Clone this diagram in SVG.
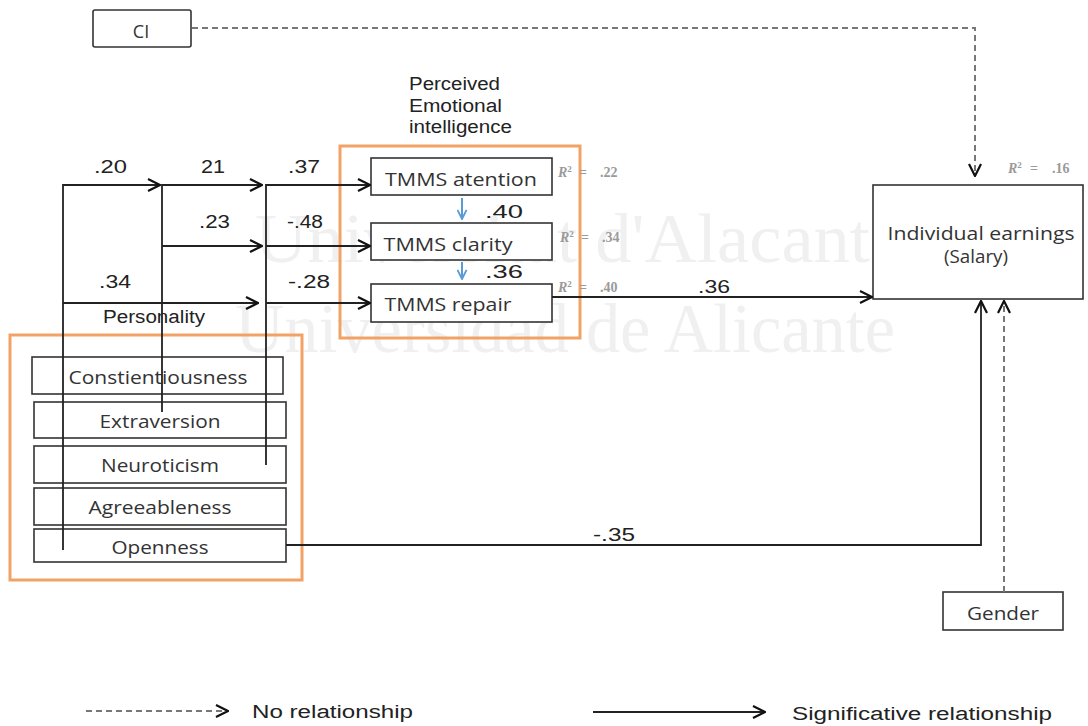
<svg xmlns="http://www.w3.org/2000/svg" width="1088" height="726" viewBox="0 0 1088 726">
<style>
.bg{fill:#ffffff}
.wm{font-family:"Liberation Serif",serif;font-size:70px;fill:#f0f0f0}
.box{fill:#ffffff;stroke:#333333;stroke-width:1.6}
.grp{fill:none;stroke:#f2a267;stroke-width:3}
.lbl{font-family:"Open Sans","Liberation Sans",sans-serif;font-size:18px;fill:#333333;text-anchor:middle}
.num{font-family:"Liberation Sans",Arial,sans-serif;font-size:18px;fill:#222222}
.r2{font-family:"Liberation Serif",serif;font-size:14px;font-weight:bold;fill:#9a9a9a}
.ln{fill:none;stroke:#222222;stroke-width:1.8}
.dash{fill:none;stroke:#777777;stroke-width:2;stroke-dasharray:6 4}
.blue{fill:none;stroke:#5b9bd5;stroke-width:2}
</style>
<defs>
<marker id="arr" viewBox="0 0 14 14" refX="13" refY="7" markerWidth="14" markerHeight="14" markerUnits="userSpaceOnUse" orient="auto">
<path d="M1,1 L13,7 L1,13" fill="none" stroke="#111111" stroke-width="2.2"/>
</marker>
<marker id="arrb" viewBox="0 0 12 12" refX="11" refY="6" markerWidth="11" markerHeight="11" markerUnits="userSpaceOnUse" orient="auto">
<path d="M1,1 L11,6 L1,11" fill="none" stroke="#5b9bd5" stroke-width="2"/>
</marker>
</defs>
<rect class="bg" x="0" y="0" width="1088" height="726"/>
<g id="watermark">
<text class="wm" x="255" y="262" textLength="615" lengthAdjust="spacingAndGlyphs">Universitat d'Alacant</text>
<text class="wm" x="235" y="352" textLength="660" lengthAdjust="spacingAndGlyphs">Universidad de Alicante</text>
</g>
<g id="personality-group">
<rect class="grp" x="10" y="335" width="292" height="245"/>
<text class="num" x="103" y="323" font-size="17" textLength="102" lengthAdjust="spacingAndGlyphs">Personality</text>
</g>
<g id="ei-group">
<rect class="grp" x="340" y="146" width="240" height="192"/>
<text class="num" x="409" y="90" font-size="17" textLength="91" lengthAdjust="spacingAndGlyphs">Perceived</text>
<text class="num" x="409" y="112" font-size="17" textLength="93" lengthAdjust="spacingAndGlyphs">Emotional</text>
<text class="num" x="409" y="133" font-size="17" textLength="103" lengthAdjust="spacingAndGlyphs">intelligence</text>
</g>
<g id="ci">
<rect class="box" x="93" y="10" width="98" height="37" rx="2"/>
<text class="lbl" x="141" y="38" font-size="17">CI</text>
</g>
<g id="constientiousness">
<rect class="box" x="32" y="357" width="251" height="37"/>
<text class="lbl" x="158" y="384" textLength="179" lengthAdjust="spacingAndGlyphs">Constientiousness</text>
</g>
<g id="extraversion">
<rect class="box" x="34" y="402" width="252" height="36"/>
<text class="lbl" x="160" y="428" textLength="121" lengthAdjust="spacingAndGlyphs">Extraversion</text>
</g>
<g id="neuroticism">
<rect class="box" x="34" y="446" width="252" height="37"/>
<text class="lbl" x="160" y="472" textLength="118" lengthAdjust="spacingAndGlyphs">Neuroticism</text>
</g>
<g id="agreeableness">
<rect class="box" x="34" y="488" width="252" height="37"/>
<text class="lbl" x="160" y="514" textLength="143" lengthAdjust="spacingAndGlyphs">Agreeableness</text>
</g>
<g id="openness">
<rect class="box" x="34" y="529" width="252" height="33"/>
<text class="lbl" x="160" y="554" textLength="97" lengthAdjust="spacingAndGlyphs">Openness</text>
</g>
<g id="tmms-atention">
<rect class="box" x="371" y="158" width="181" height="37"/>
<text class="lbl" x="461" y="186" font-size="19" textLength="152" lengthAdjust="spacingAndGlyphs">TMMS atention</text>
<text class="r2" y="177"><tspan x="558" font-style="italic">R</tspan><tspan font-size="9" dy="-5">2</tspan><tspan x="579" dy="5">=</tspan><tspan x="600">.22</tspan></text>
</g>
<g id="tmms-clarity">
<rect class="box" x="371" y="223" width="181" height="37"/>
<text class="lbl" x="448" y="251" font-size="19" textLength="129" lengthAdjust="spacingAndGlyphs">TMMS clarity</text>
<text class="r2" y="242"><tspan x="560" font-style="italic">R</tspan><tspan font-size="9" dy="-5">2</tspan><tspan x="581" dy="5">=</tspan><tspan x="602">.34</tspan></text>
</g>
<g id="tmms-repair">
<rect class="box" x="371" y="284" width="181" height="38"/>
<text class="lbl" x="448" y="311" font-size="19" textLength="127" lengthAdjust="spacingAndGlyphs">TMMS repair</text>
<text class="r2" y="292"><tspan x="558" font-style="italic">R</tspan><tspan font-size="9" dy="-5">2</tspan><tspan x="579" dy="5">=</tspan><tspan x="600">.40</tspan></text>
</g>
<g id="earnings">
<rect class="box" x="873" y="185" width="210" height="114"/>
<text class="lbl" x="981" y="240" font-size="19" textLength="187" lengthAdjust="spacingAndGlyphs">Individual earnings</text>
<text class="lbl" x="976" y="263" font-size="19" textLength="64" lengthAdjust="spacingAndGlyphs">(Salary)</text>
<text class="r2" y="173"><tspan x="1008" font-style="italic">R</tspan><tspan font-size="9" dy="-5">2</tspan><tspan x="1030" dy="5">=</tspan><tspan x="1052">.16</tspan></text>
</g>
<g id="gender">
<rect class="box" x="943" y="592" width="120" height="38"/>
<text class="lbl" x="1003" y="620" textLength="72" lengthAdjust="spacingAndGlyphs">Gender</text>
</g>
<g id="connectors">
<path class="ln" d="M63,550 V185 H160" marker-end="url(#arr)"/>
<path class="ln" d="M63,303 H258" marker-end="url(#arr)"/>
<path class="ln" d="M162,412 V185 H262" marker-end="url(#arr)"/>
<path class="ln" d="M162,246 H262" marker-end="url(#arr)"/>
<path class="ln" d="M266,465 V185 H370" marker-end="url(#arr)"/>
<path class="ln" d="M266,246 H370" marker-end="url(#arr)"/>
<path class="ln" d="M266,303 H370" marker-end="url(#arr)"/>
<path class="ln" d="M552,297 H872" marker-end="url(#arr)"/>
<path class="ln" d="M286,545 H981 V301" marker-end="url(#arr)"/>
<path class="dash" d="M1004,592 V301" marker-end="url(#arr)"/>
<path class="dash" d="M192,28 H975 V176" marker-end="url(#arr)"/>
<path class="blue" d="M462,198 V219" marker-end="url(#arrb)"/>
<path class="blue" d="M462,262 V279" marker-end="url(#arrb)"/>
</g>
<g id="coefficients">
<text class="num" x="94" y="173" textLength="33" lengthAdjust="spacingAndGlyphs">.20</text>
<text class="num" x="201" y="173" textLength="24" lengthAdjust="spacingAndGlyphs">21</text>
<text class="num" x="288" y="173" textLength="32" lengthAdjust="spacingAndGlyphs">.37</text>
<text class="num" x="199" y="228" textLength="31" lengthAdjust="spacingAndGlyphs">.23</text>
<text class="num" x="287" y="228" textLength="36" lengthAdjust="spacingAndGlyphs">-.48</text>
<text class="num" x="99" y="288" textLength="32" lengthAdjust="spacingAndGlyphs">.34</text>
<text class="num" x="288" y="288" textLength="42" lengthAdjust="spacingAndGlyphs">-.28</text>
<text class="num" x="485" y="218" textLength="38" lengthAdjust="spacingAndGlyphs">.40</text>
<text class="num" x="485" y="278" textLength="38" lengthAdjust="spacingAndGlyphs">.36</text>
<text class="num" x="698" y="293" textLength="32" lengthAdjust="spacingAndGlyphs">.36</text>
<text class="num" x="593" y="541" textLength="42" lengthAdjust="spacingAndGlyphs">-.35</text>
</g>
<g id="legend">
<path class="dash" d="M86,711 H228" marker-end="url(#arr)"/>
<text class="num" x="252" y="718" font-size="20" textLength="161" lengthAdjust="spacingAndGlyphs">No relationship</text>
<path class="ln" d="M593,712 H765" marker-end="url(#arr)"/>
<text class="num" x="792" y="720" font-size="20" textLength="260" lengthAdjust="spacingAndGlyphs">Significative relationship</text>
</g>
</svg>
